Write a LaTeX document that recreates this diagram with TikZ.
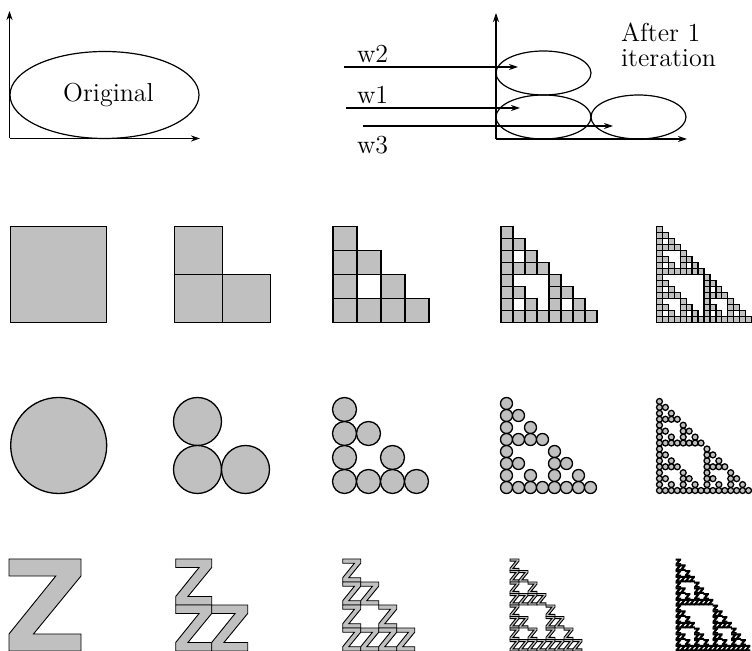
\documentclass[tikz,border=0pt]{standalone}
\usetikzlibrary{arrows.meta}
\definecolor{cellgray}{RGB}{192,192,192}
\tikzset{
  cell/.style={fill=cellgray, draw=black, line width=0.65pt},
  zcellstyle/.style={fill=cellgray, draw=black, line width=0.45pt},
  axisline/.style={line width=0.6pt, -{Stealth[length=4.5pt,width=3pt]}},
  outline/.style={line width=0.6pt},
  lbl/.style={font=\fontsize{13}{13}\selectfont, inner sep=0pt},
}
\newcommand\sqcell[4]{\filldraw[cell] (#1,#2) rectangle ({#1+#3},{#2-#4});}
\newcommand\circcell[4]{\pgfmathsetmacro\rad{#3/4}\filldraw[cell] ({#1+#3/2},{#2-#4/2}) circle[radius=\rad pt];}
\newcommand\zcell[4]{\filldraw[zcellstyle]
  (#1,{#2-#4}) -- ({#1+#3},{#2-#4}) -- ({#1+#3},{#2-0.815*#4})
  -- ({#1+0.34*#3},{#2-0.185*#4}) -- ({#1+#3},{#2-0.185*#4})
  -- ({#1+#3},#2) -- (#1,#2) -- (#1,{#2-0.185*#4})
  -- ({#1+0.65*#3},{#2-0.815*#4}) -- (#1,{#2-0.815*#4}) -- cycle;}
% #1 cell macro, #2 left, #3 bottom, #4 width, #5 height, #6 cells per side
\newcommand\sierpinski[6]{%
  \pgfmathsetmacro\cw{#4/#6}%
  \pgfmathsetmacro\ch{#5/#6}%
  \pgfmathtruncatemacro\nm{#6-1}%
  \foreach \j in {\nm,...,0}{%
    \foreach \i in {0,...,\nm}{%
      \pgfmathtruncatemacro\hit{mod(\i,2)*mod(\j,2)+mod(floor(\i/2),2)*mod(floor(\j/2),2)+mod(floor(\i/4),2)*mod(floor(\j/4),2)+mod(floor(\i/8),2)*mod(floor(\j/8),2)}%
      \ifnum\hit=0
        \pgfmathsetmacro\cx{#2+\i*\cw}%
        \pgfmathsetmacro\cy{#3-\j*\ch}%
        #1{\cx}{\cy}{\cw}{\ch}%
      \fi
    }%
  }%
}
\begin{document}
\begin{tikzpicture}[x=0.5pt,y=-0.5pt]
\useasboundingbox (0,0) rectangle (752,651);
% ---- left axes
\coordinate (lo) at (9.5,138.5);
\coordinate (ly) at (9.5,11);
\coordinate (lx) at (200,138.5);
\draw[axisline] (lo) -- (ly);
\draw[axisline] (lo) -- (lx);
\draw[outline] (104.5,95) ellipse[x radius=94.5, y radius=43.5];
\node[lbl, anchor=base] (orig) at (108.5,101.7) {Original};
% ---- right axes
\coordinate (ro) at (496,139);
\coordinate (ry) at (496,13);
\coordinate (rx) at (687,139);
\draw[axisline] (ro) -- (ry);
\draw[axisline] (ro) -- (rx);
\draw[outline] (543.5,73) ellipse[x radius=47.5, y radius=22];
\draw[outline] (543.5,117) ellipse[x radius=47.5, y radius=22];
\draw[outline] (638.5,117) ellipse[x radius=47.5, y radius=22];
\coordinate (w2s) at (344,67);  \coordinate (w2e) at (518,67);
\coordinate (w1s) at (346,108); \coordinate (w1e) at (520,108);
\coordinate (w3s) at (363,126); \coordinate (w3e) at (613,126);
\draw[axisline] (w2s) -- (w2e);
\draw[axisline] (w1s) -- (w1e);
\draw[axisline] (w3s) -- (w3e);
\node[lbl, anchor=base west] (w2) at (356.7,62.7) {w2};
\node[lbl, anchor=base west] (w1) at (356.7,103.3) {w1};
\node[lbl, anchor=base west] (w3) at (356.7,153.3) {w3};
\node[lbl, anchor=base west] (after) at (620.7,41.7) {After 1};
\node[lbl, anchor=base west] (iter) at (620.7,66.7) {iteration};
% ---- squares
\sierpinski{\sqcell}{10.5}{322.5}{96}{96}{1}
\sierpinski{\sqcell}{174.5}{322.5}{96}{96}{2}
\sierpinski{\sqcell}{333}{322.5}{96}{96}{4}
\sierpinski{\sqcell}{501}{322.5}{96}{96}{8}
\sierpinski{\sqcell}{656.5}{322.5}{95}{96}{16}
% ---- circles
\sierpinski{\circcell}{10.7}{493.5}{96}{96}{1}
\sierpinski{\circcell}{173.5}{493.5}{96}{96}{2}
\sierpinski{\circcell}{332.5}{493.5}{96}{96}{4}
\sierpinski{\circcell}{500.5}{493.5}{96}{96}{8}
\sierpinski{\circcell}{656.5}{493.5}{95}{95}{16}
% ---- Z shapes
\sierpinski{\zcell}{9}{651}{72}{92}{1}
\sierpinski{\zcell}{175.7}{651}{72}{92}{2}
\sierpinski{\zcell}{342.7}{651}{72}{92}{4}
\sierpinski{\zcell}{510}{651}{72}{92}{8}
\sierpinski{\zcell}{676}{651}{74}{92}{16}
\end{tikzpicture}
\end{document}
